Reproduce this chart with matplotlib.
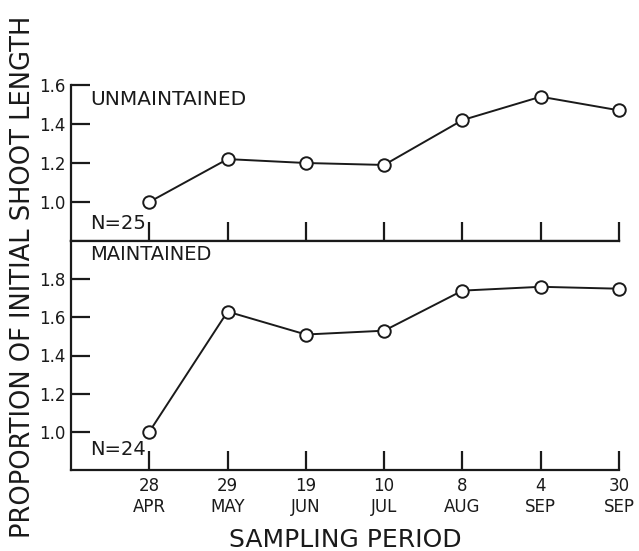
import numpy as np
import matplotlib
matplotlib.use("Agg")
import matplotlib.pyplot as plt

# sampling dates
dates = ["28\nAPR", "29\nMAY", "19\nJUN", "10\nJUL", "8\nAUG", "4\nSEP", "30\nSEP"]
periods = np.arange(1, 8)

# proportion of initial shoot length
unmaintained = [1.00, 1.22, 1.20, 1.19, 1.42, 1.54, 1.47]
maintained = [1.00, 1.63, 1.51, 1.53, 1.74, 1.76, 1.75]

top_ticks = [1.0, 1.2, 1.4, 1.6]
bot_ticks = [1.0, 1.2, 1.4, 1.6, 1.8]

plt.rcParams['font.family'] = 'DejaVu Sans'
fig = plt.figure(figsize=(6.39, 5.51), dpi=100)

W, H = 639, 551
left, right = 71 / W, 619 / W
ax1 = fig.add_axes([left, 1 - 241 / H, right - left, (241 - 85) / H])
ax2 = fig.add_axes([left, 1 - 470 / H, right - left, (470 - 241) / H])

ink = "#1a1a1a"
lw_ax = 1.6
for ax, vals, yt, ylim in [(ax1, unmaintained, top_ticks, (0.8, 1.6)),
                           (ax2, maintained, bot_ticks, (0.8, 2.0))]:
    ax.plot(periods, vals, color=ink, lw=1.4, marker="o", ms=9,
            mfc="white", mec=ink, mew=1.4, zorder=3, clip_on=False)
    ax.set_xlim(0, 7)
    ax.set_ylim(*ylim)
    ax.set_yticks(yt)
    ax.set_yticklabels([f"{v:.1f}" for v in yt], fontsize=12)
    ax.set_xticks(periods)
    ax.tick_params(axis="both", direction="in", length=13.5, width=lw_ax,
                   color=ink, labelcolor=ink, pad=4)
    ax.spines["right"].set_visible(False)
    for s in ax.spines.values():
        s.set_linewidth(lw_ax)
        s.set_color(ink)

ax1.spines["top"].set_visible(False)
ax1.set_xticklabels([])
ax2.set_xticklabels(dates, fontsize=12, linespacing=1.25)
ax2.tick_params(axis="x", pad=5)

ax1.text(0.035, 0.905, "UNMAINTAINED", transform=ax1.transAxes, fontsize=14.5,
         va="center", ha="left", color=ink)
ax1.text(0.035, 0.115, "N=25", transform=ax1.transAxes, fontsize=14,
         va="center", ha="left", color=ink)
ax2.text(0.035, 0.943, "MAINTAINED", transform=ax2.transAxes, fontsize=14,
         va="center", ha="left", color=ink)
ax2.text(0.035, 0.09, "N=24", transform=ax2.transAxes, fontsize=14,
         va="center", ha="left", color=ink)

fig.text(23 / W, 1 - 277 / H, "PROPORTION OF INITIAL SHOOT LENGTH",
         rotation=90, ha="center", va="center", fontsize=18.5, color=ink)
fig.text((71 + 548 / 2) / W, 1 - 540 / H, "SAMPLING PERIOD",
         ha="center", va="center", fontsize=18, color=ink)

fig.savefig("out.png", dpi=100, facecolor="white")
